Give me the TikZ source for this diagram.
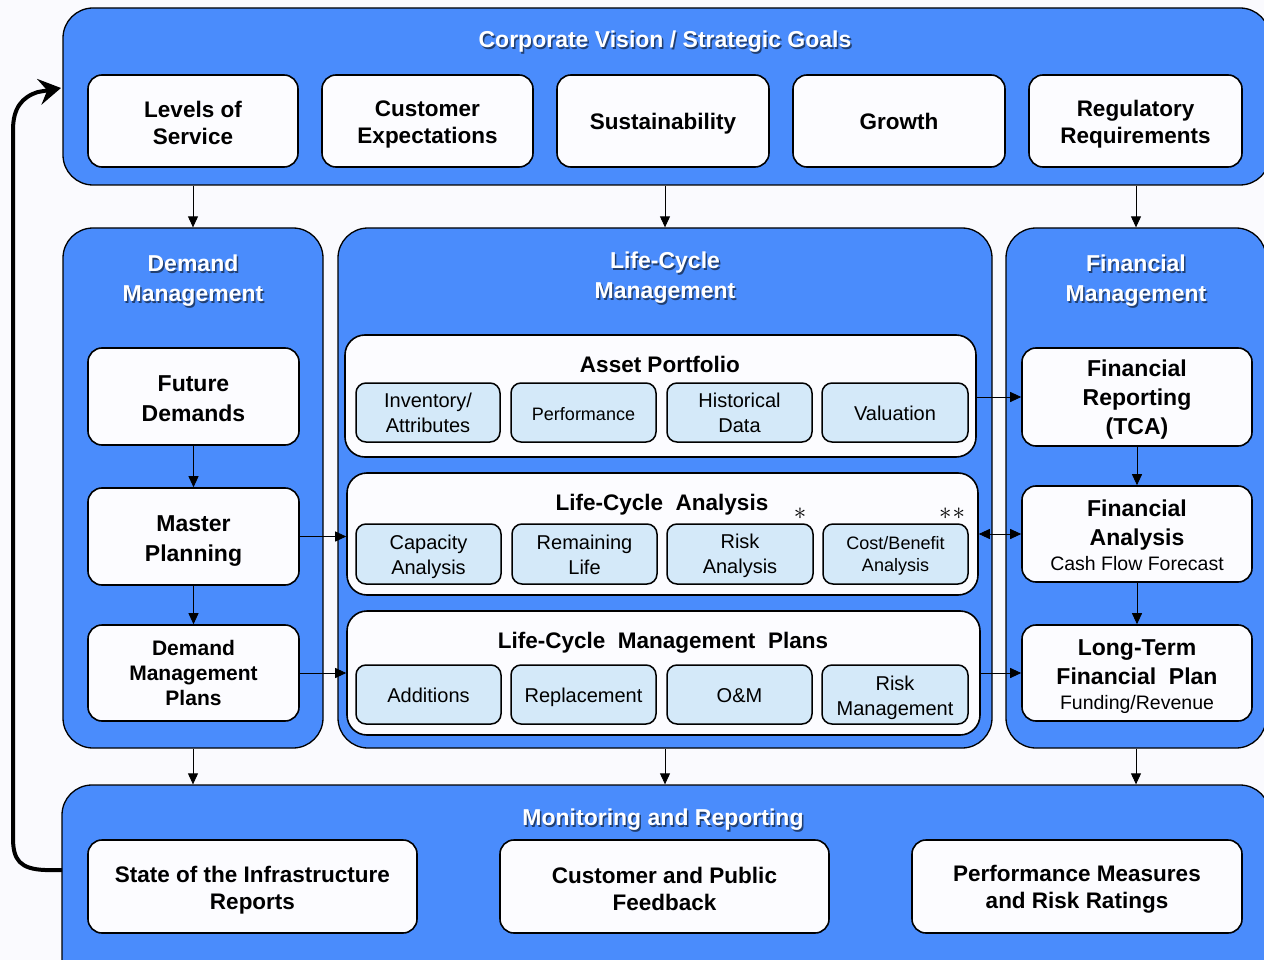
\documentclass[tikz,border=0pt]{standalone}
\usepackage{fontspec}
\setmainfont{Liberation Sans}
\usetikzlibrary{arrows.meta}
\definecolor{panelblue}{HTML}{4A8CFC}
\definecolor{cellblue}{HTML}{D4E9F9}
\definecolor{paper}{HTML}{FAFAFE}
\definecolor{cardwhite}{HTML}{FCFCFF}
\newcommand\fsz[2]{\fontsize{#1}{#2}\selectfont}
% rectangle node given by its corners: style, name, x1, y1, x2, y2, text;
% the text is set in its own node so that it can be nudged with tshift
\newcommand\rectnode[7]{%
  \node[#1, minimum width={#5-#3}, minimum height={#6-#4}] (#2) at ({(#3+#5)/2},{(#4+#6)/2}) {};
  \node[tshift=1pt, #1, draw=none, fill=none, minimum width=0pt, minimum height=0pt, yshift=-\tshiftval] at (#2.center) {#7};}
% white panel title with a soft dark shadow
\newcommand\paneltitle[4]{%
  \node[titleshadow] at ({#2+1.5},{#3+1.5}) {#4};
  \node[titletext] (#1) at (#2,#3) {#4};}
\begin{document}
\begin{tikzpicture}[x=1pt,y=-1pt,
  tshift/.store in=\tshiftval, tshift=1pt,
  panel/.style={draw=black, line width=1.3pt, fill=panelblue, rounded corners=30pt, inner sep=0pt},
  card/.style={draw=black, line width=1.6pt, fill=cardwhite, rounded corners=14pt, align=center,
    font=\bfseries\fsz{22.5}{27}, inner sep=0pt, tshift=3pt},
  group/.style={draw=black, line width=1.6pt, fill=cardwhite, rounded corners=20pt, inner sep=0pt},
  cell/.style={draw=black, line width=1.5pt, fill=cellblue, rounded corners=10pt, align=center,
    font=\fsz{20}{25}, inner sep=0pt, tshift=1pt},
  grouptitle/.style={font=\bfseries\fsz{22.5}{27}, inner sep=0pt},
  titletext/.style={text=white, font=\bfseries\fsz{23}{30}, align=center, inner sep=0pt},
  titleshadow/.style={text=black, opacity=0.55, font=\bfseries\fsz{23}{30}, align=center, inner sep=0pt},
  link/.style={draw=black, line width=0.9pt, -{Triangle[length=11pt,width=10pt]}},
  dlink/.style={draw=black, line width=0.9pt, {Triangle[length=11pt,width=10pt]}-{Triangle[length=11pt,width=10pt]}},
  feedback/.style={draw=black, line width=4pt, -{Stealth[length=22pt,width=26pt,inset=8pt]}},
  star/.style={font=\fsz{31}{31}, inner sep=0pt, anchor=center}
]
\path[use as bounding box] (0,0) rectangle (1264,960);
\clip (0,0) rectangle (1264,960);
\fill[paper] (0,0) rectangle (1264,960);

% ---------- panels ----------
\rectnode{panel}{vision}{63}{8}{1270}{185}{}
\rectnode{panel}{dm}{63}{228}{323}{748}{}
\rectnode{panel}{lc}{338}{228}{992}{748}{}
\rectnode{panel}{fm}{1006}{228}{1266}{748}{}
\rectnode{panel}{mon}{62}{785}{1270}{1010}{}

\paneltitle{visiontitle}{665}{42}{Corporate Vision / Strategic Goals}
\paneltitle{dmtitle}{193}{281}{Demand\\Management}
\paneltitle{lctitle}{665}{278}{Life-Cycle\\Management}
\paneltitle{fmtitle}{1136}{281}{Financial\\Management}
\paneltitle{montitle}{663}{820}{Monitoring and Reporting}

% ---------- strategic goals ----------
\rectnode{card,tshift=2pt}{los}{88}{75}{298}{167}{Levels of\\Service}
\rectnode{card}{cex}{322}{75}{533}{167}{Customer\\Expectations}
\rectnode{card}{sus}{557}{75}{769}{167}{Sustainability}
\rectnode{card,tshift=0pt}{gro}{793}{75}{1005}{167}{Growth}
\rectnode{card}{reg}{1029}{75}{1242}{167}{Regulatory\\Requirements}

% ---------- demand management ----------
\rectnode{card,font=\bfseries\fsz{23}{30},tshift=2pt}{fd}{88}{348}{299}{445}{Future\\Demands}
\rectnode{card,font=\bfseries\fsz{23}{30},tshift=5pt}{mp}{88}{488}{299}{585}{Master\\Planning}
\rectnode{card,font=\bfseries\fsz{21}{25},tshift=0pt}{dmp}{88}{625}{299}{721}{Demand\\Management\\Plans}

% ---------- life-cycle management ----------
\rectnode{group}{ap}{345}{335}{976}{457}{}
\node[grouptitle] (aptitle) at (660,364) {Asset Portfolio};
\rectnode{cell,tshift=0pt}{inv}{356}{383}{500}{442}{Inventory/\\Attributes}
\rectnode{cell,font=\fsz{18}{22},tshift=2pt}{perf}{511}{383}{656}{442}{Performance}
\rectnode{cell,tshift=0pt}{hist}{667}{383}{812}{442}{Historical\\Data}
\rectnode{cell}{val}{822}{383}{968}{442}{Valuation}

\rectnode{group}{lca}{347}{473}{978}{595}{}
\node[grouptitle] (lcatitle) at (662,505) {Life-Cycle\ \ Analysis};
\rectnode{cell,tshift=3pt}{cap}{356}{524}{501}{584}{Capacity\\Analysis}
\rectnode{cell}{rem}{512}{524}{657}{584}{Remaining\\Life}
\rectnode{cell,tshift=2pt}{risk}{667}{524}{813}{584}{Risk\\Analysis}
\rectnode{cell,font=\fsz{18}{22},tshift=2pt}{cb}{823}{524}{968}{584}{Cost/Benefit\\Analysis}
\node[star] (s1) at (800,514) {$\ast$};
\node[star] (s2) at (952,514) {$\ast$\kern1pt$\ast$};

\rectnode{group}{lcmp}{347}{611}{980}{735}{}
\node[grouptitle] (lcmptitle) at (663,643) {Life-Cycle\ \ Management\ \ Plans};
\rectnode{cell}{add}{356}{665}{501}{724}{Additions}
\rectnode{cell,tshift=3pt}{rep}{511}{665}{656}{724}{Replacement}
\rectnode{cell}{om}{667}{665}{812}{724}{O\&M}
\rectnode{cell,tshift=3pt}{rm}{822}{665}{968}{724}{Risk\\Management}

% ---------- financial management ----------
\rectnode{card,font=\bfseries\fsz{23}{29}}{fr}{1022}{348}{1252}{446}{Financial\\Reporting\\(TCA)}
\rectnode{card,font=\bfseries\fsz{23}{29},tshift=1pt}{fa}{1022}{486}{1252}{582}{Financial\\Analysis\\[-4pt]{\mdseries\fsz{19.5}{24}Cash Flow Forecast}}
\rectnode{card,font=\bfseries\fsz{23}{29},tshift=3.5pt}{ltfp}{1022}{625}{1252}{721}{Long-Term\\Financial\ \ Plan\\[-4pt]{\mdseries\fsz{19.5}{24}Funding/Revenue}}

% ---------- monitoring and reporting ----------
\rectnode{card,tshift=3.5pt}{soi}{88}{840}{417}{933}{State of the Infrastructure\\Reports}
\rectnode{card,tshift=2pt}{cpf}{500}{840}{829}{933}{Customer and Public\\Feedback}
\rectnode{card,tshift=3pt}{pmr}{912}{840}{1242}{933}{Performance Measures\\and Risk Ratings}

% ---------- connectors ----------
\draw[link] (vision.south -| dm.north) -- (dm.north);
\draw[link] (vision.south -| lc.north) -- (lc.north);
\draw[link] (vision.south -| fm.north) -- (fm.north);

\draw[link] (fd) -- (mp);
\draw[link] (mp) -- (dmp);
\draw[link] (fr) -- (fa);
\draw[link] (fa) -- (ltfp);

\draw[link] (mp.east) -- (mp.east -| lca.west);
\draw[link] (dmp.east) -- (dmp.east -| lcmp.west);
\draw[link] (fr.west -| ap.east) -- (fr.west);
\draw[dlink] (fa.west -| lca.east) -- (fa.west);
\draw[link] (ltfp.west -| lcmp.east) -- (ltfp.west);

\draw[link] (dm.south) -- (dm.south |- mon.north);
\draw[link] (lc.south) -- (lc.south |- mon.north);
\draw[link] (fm.south) -- (fm.south |- mon.north);

% feedback loop from monitoring back to the strategic goals
\coordinate (fbstart) at (62,870);
\coordinate (fbend) at (61,88);
\draw[feedback] (fbstart) -- (45,870) .. controls (20,869) and (13,860) .. (13,838)
  -- (13,130) .. controls (13,108) and (22,97) .. (38,92) -- (fbend);
\end{tikzpicture}
\end{document}
